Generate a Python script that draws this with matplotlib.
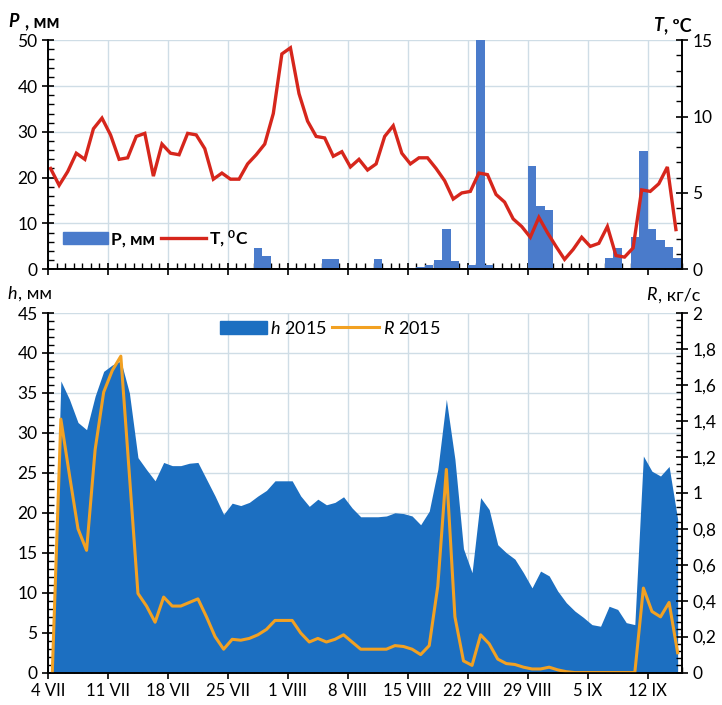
import numpy as np
import matplotlib
matplotlib.use("Agg")
import matplotlib.pyplot as plt
from matplotlib.ticker import MultipleLocator, FuncFormatter
from matplotlib.patches import Patch
from matplotlib.lines import Line2D

plt.rcParams['font.family'] = ['Lato', 'Open Sans', 'DejaVu Sans']
plt.rcParams['mathtext.fontset'] = 'custom'
plt.rcParams['mathtext.it'] = 'Lato:italic'
plt.rcParams['mathtext.rm'] = 'Lato'
plt.rcParams['mathtext.bf'] = 'Lato:bold'

# days since 4 July 2015
days = np.arange(74)
tick_days = [0, 7, 14, 21, 28, 35, 42, 49, 56, 63, 70]
tick_labels = ["4 VII", "11 VII", "18 VII", "25 VII", "1 VIII", "8 VIII",
               "15 VIII", "22 VIII", "29 VIII", "5 IX", "12 IX"]

# precipitation, mm
P = [0, 0, 0, 0, 0, 0, 0, 0, 0, 0,
     0, 0, 0, 0, 0, 0, 0, 0, 0, 0,
     0, 0, 0, 0, 4.6, 2.8, 0, 0, 0, 0,
     0, 0, 2.2, 2.2, 0, 0, 0, 0, 2.3, 0,
     0, 0, 0, 0.5, 1.0, 2.0, 8.7, 1.8, 0, 0.9,
     52, 0.9, 0, 0, 0, 0, 22.5, 13.9, 12.9, 0,
     0, 0, 0, 0, 0, 2.5, 4.6, 0, 7.0, 25.9,
     8.7, 6.5, 4.9, 2.4]

# air temperature, C
T = [6.6, 5.5, 6.4, 7.6, 7.2, 9.2, 9.9, 8.8, 7.2, 7.3,
     8.7, 8.9, 6.1, 8.2, 7.6, 7.5, 8.9, 8.8, 7.9, 5.9,
     6.3, 5.9, 5.9, 6.9, 7.5, 8.2, 10.2, 14.1, 14.5, 11.5,
     9.7, 8.7, 8.6, 7.4, 7.7, 6.7, 7.2, 6.5, 6.9, 8.7,
     9.4, 7.6, 6.9, 7.3, 7.3, 6.6, 5.8, 4.6, 5.0, 5.1,
     6.3, 6.2, 4.9, 4.4, 3.3, 2.8, 2.1, 3.4, 2.4, 1.5,
     0.65, 1.3, 2.1, 1.5, 1.7, 2.8, 0.9, 0.8, 1.4, 5.2,
     5.1, 5.6, 6.7, 2.6]

# water level h, mm
h = [0, 36.5, 34.2, 31.3, 30.4, 34.6, 37.7, 38.5, 39.0, 35.0,
     26.9, 25.4, 24.0, 26.3, 25.9, 25.9, 26.2, 26.3, 24.2, 22.1,
     19.8, 21.2, 20.9, 21.3, 22.1, 22.8, 24.0, 24.0, 24.0, 22.1,
     20.8, 21.7, 21.0, 21.3, 22.0, 20.6, 19.5, 19.5, 19.5, 19.6,
     20.0, 19.9, 19.6, 18.5, 20.2, 25.4, 34.2, 26.7, 15.5, 12.5,
     21.9, 20.4, 16.0, 15.0, 14.2, 12.5, 10.6, 12.7, 12.1, 10.2,
     8.75, 7.7, 6.9, 6.0, 5.8, 8.3, 7.9, 6.25, 6.0, 27.1,
     25.2, 24.6, 25.8, 19.2]

# sediment discharge R, kg/s
R = [0, 1.41, 1.1, 0.8, 0.68, 1.24, 1.56, 1.68, 1.76, 1.1,
     0.44, 0.37, 0.28, 0.42, 0.37, 0.37, 0.39, 0.41, 0.31, 0.20,
     0.13, 0.185, 0.18, 0.19, 0.21, 0.24, 0.29, 0.29, 0.29, 0.22,
     0.17, 0.19, 0.17, 0.185, 0.21, 0.17, 0.13, 0.13, 0.13, 0.13,
     0.15, 0.145, 0.13, 0.10, 0.15, 0.48, 1.13, 0.31, 0.065, 0.04,
     0.21, 0.16, 0.075, 0.05, 0.045, 0.03, 0.02, 0.02, 0.03, 0.015,
     0.005, 0, 0, 0, 0, 0, 0, 0, 0, 0.47,
     0.34, 0.31, 0.39, 0.11]

bar_c = '#4a7bcb'
t_c = '#d6261c'
h_c = '#1c6fc1'
r_c = '#f2a122'
grid_c = '#cfdde6'

fig = plt.figure(figsize=(7.22, 7.05), dpi=100)
ax1 = fig.add_axes([0.0665, 0.618, 0.878, 0.325])
ax2 = fig.add_axes([0.0665, 0.046, 0.878, 0.510])


def style(ax, twin):
    ax.set_xlim(0, 74)
    ax.xaxis.set_major_locator(MultipleLocator(7))
    ax.xaxis.set_minor_locator(MultipleLocator(1))
    ax.grid(True, which='major', color=grid_c, lw=1)
    ax.set_axisbelow(True)
    for a in (ax, twin):
        a.spines['top'].set_visible(False)
        for s in ('left', 'right', 'bottom'):
            a.spines[s].set_color('black')
            a.spines[s].set_linewidth(1.2)
        a.tick_params(which='major', direction='inout', length=9, width=1.2,
                      labelsize=12.5, pad=3)
        a.tick_params(which='minor', direction='in', length=4, width=1.0)


# top panel: precipitation and temperature
ax1.bar(days + 0.5, P, width=0.98, color=bar_c, zorder=2)
ax1.set_ylim(0, 50)
ax1.yaxis.set_major_locator(MultipleLocator(10))
ax1.yaxis.set_minor_locator(MultipleLocator(2))
ax1t = ax1.twinx()
ax1t.plot(days + 0.3, T, color=t_c, lw=2.4, solid_joinstyle='miter')
ax1t.set_ylim(0, 15)
ax1t.yaxis.set_major_locator(MultipleLocator(5))
ax1t.yaxis.set_minor_locator(MultipleLocator(1))
style(ax1, ax1t)
ax1.set_xticks(tick_days)
ax1.set_xticklabels([])

leg1 = ax1t.legend([Patch(color=bar_c), Line2D([], [], color=t_c, lw=2.4)],
                   ['P, мм', r'T, $^{\mathbf{0}}$C'], loc='center',
                   bbox_to_anchor=(0.17, 0.135), ncol=2, frameon=False,
                   prop={'weight': 'bold', 'size': 12.5}, handlelength=2.6,
                   handletextpad=0.2, columnspacing=0.3)

# bottom panel: water level and sediment discharge
ax2.fill_between(days + 0.5, h, color=h_c, lw=0, zorder=2)
ax2.set_ylim(0, 45)
ax2.yaxis.set_major_locator(MultipleLocator(5))
ax2.yaxis.set_minor_locator(MultipleLocator(1))
ax2t = ax2.twinx()
ax2t.plot(days + 0.5, R, color=r_c, lw=2.2)
ax2t.set_ylim(0, 2)
ax2t.yaxis.set_major_locator(MultipleLocator(0.2))
ax2t.yaxis.set_minor_locator(MultipleLocator(0.04))
ax2t.yaxis.set_major_formatter(FuncFormatter(lambda v, p: ('%g' % round(v, 1)).replace('.', ',')))
style(ax2, ax2t)
ax2.set_xticks(tick_days)
ax2.set_xticklabels(tick_labels, fontsize=12)

leg2 = ax2t.legend([Patch(color=h_c), Line2D([], [], color=r_c, lw=2.2)],
                   [r'$\mathit{h}$ 2015', r'$\mathit{R}$ 2015'], loc='center',
                   bbox_to_anchor=(0.445, 0.958), ncol=2, frameon=False,
                   fontsize=13, handlelength=2.6, handletextpad=0.2,
                   columnspacing=0.3)

# axis titles
t = fig.text(0.012, 0.962, 'P', fontsize=13, weight='bold', style='italic')
fig.text(0.034, 0.962, ', мм', fontsize=13, weight='bold')
fig.text(0.905, 0.956, 'T', fontsize=13, weight='bold', style='italic')
fig.text(0.920, 0.956, ', ºC', fontsize=13, weight='bold')
fig.text(0.010, 0.576, 'h', fontsize=13, style='italic')
fig.text(0.025, 0.576, ', мм', fontsize=13)
fig.text(0.895, 0.574, 'R', fontsize=13, style='italic')
fig.text(0.912, 0.574, ', кг/с', fontsize=13)

fig.savefig('out.png', dpi=100)
